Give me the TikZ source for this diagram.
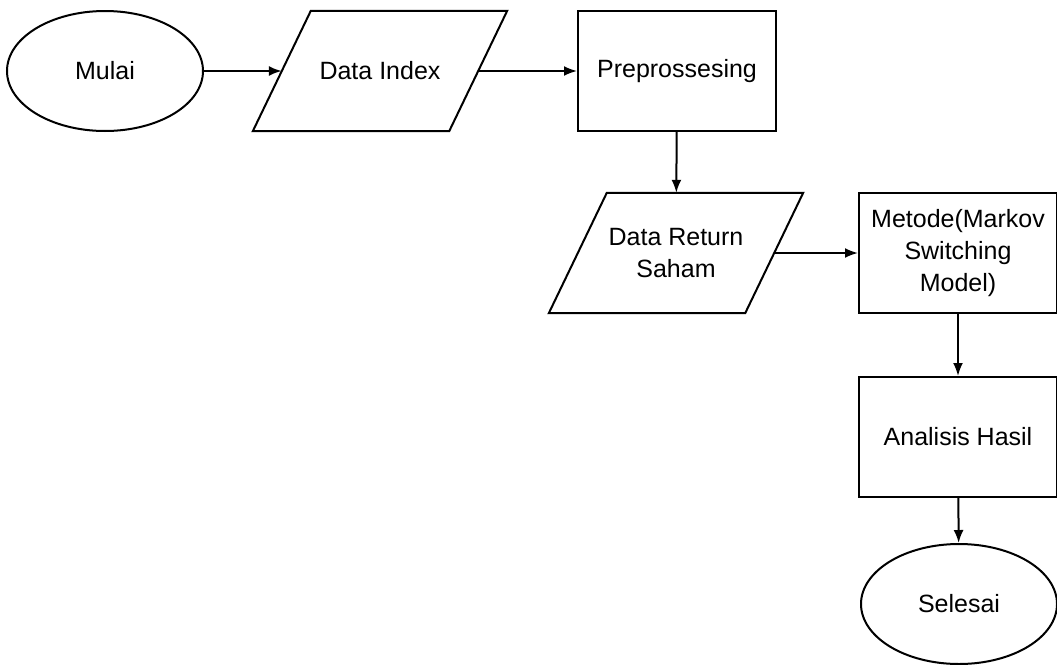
\documentclass[tikz,border=0pt]{standalone}
\usepackage{fontspec}
\setmainfont{Liberation Sans}
\usepackage{tikz}
\usetikzlibrary{shapes,arrows.meta,positioning}

\tikzset{
  terminal/.style={draw, ellipse, line width=2pt, minimum width=196pt, minimum height=120pt, inner sep=0pt},
  dataio/.style={rectangle, minimum width=196pt, minimum height=120pt, align=center},
  process/.style={draw, rectangle, minimum width=198pt, minimum height=120pt, line width=2pt, align=center},
  arrowline/.style={-{Latex[length=13pt,width=10pt]}, line width=2pt}
}

\begin{document}
\begin{tikzpicture}[x=1pt, y=-1pt, font=\fontsize{25}{32}\selectfont]
\useasboundingbox (0,0) rectangle (1057,664);

% top row
\node[terminal] (mulai) at (105,71) {Mulai};
\node[dataio] (dataindex) at (380,71) {Data Index};
\node[process] (prepro) at (677,71) {Preprossesing};

% middle row
\node[dataio] (datareturn) at (676,253) {Data Return\\Saham};
\node[process] (metode) at (958,253) {Metode(Markov\\Switching\\Model)};

% right column
\node[process] (analisis) at (958,437) {Analisis Hasil};
\node[terminal] (selesai) at (959,604) {Selesai};

% slanted input boxes
\foreach \n in {dataindex,datareturn} {
  \draw[line width=2pt, line join=miter]
    ([xshift=29pt]\n.north west) -- ([xshift=29pt]\n.north east)
    -- ([xshift=-29pt]\n.south east) -- ([xshift=-29pt]\n.south west) -- cycle;
}

\draw[arrowline] (mulai) -- (dataindex);
\draw[arrowline] (dataindex) -- (prepro);
\draw[arrowline] (prepro) -- (datareturn);
\draw[arrowline] (datareturn) -- (metode);
\draw[arrowline] (metode) -- (analisis);
\draw[arrowline] (analisis) -- (selesai);
\end{tikzpicture}
\end{document}
